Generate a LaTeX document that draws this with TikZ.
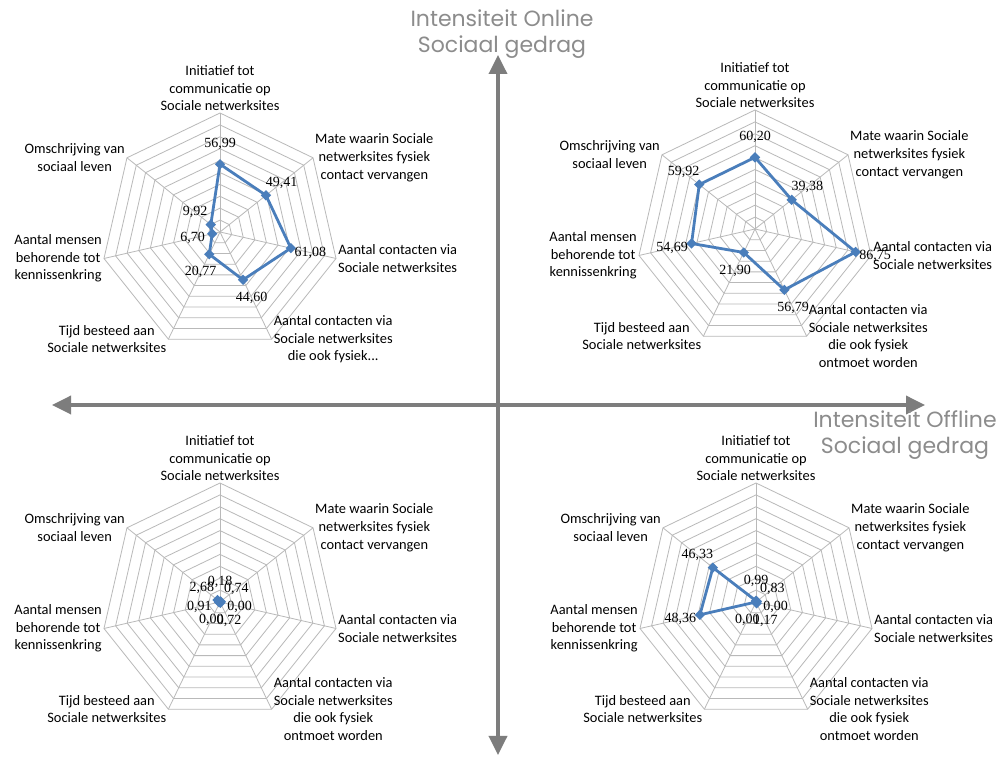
\documentclass[tikz,border=0pt]{standalone}
\usepackage{fontspec}
\setmainfont{Carlito}
\newfontfamily\valfont{Liberation Serif}
\newfontfamily\axisfont{Poppins}
\usetikzlibrary{shapes.geometric,arrows.meta}

\definecolor{gridgray}{RGB}{185,185,185}
\definecolor{serieblue}{RGB}{74,126,187}
\definecolor{axisgray}{RGB}{125,125,125}
\definecolor{titlegray}{RGB}{140,140,140}

\tikzset{
  ring/.style={draw=gridgray, line width=0.8pt},
  spoke/.style={draw=gridgray, line width=0.8pt},
  serie/.style={draw=serieblue, line width=2.8pt, line join=round},
  dot/.style={diamond, fill=serieblue, inner sep=0pt, minimum size=10.5pt},
  cat/.style={font=\fontsize{14.4}{17.6}\selectfont, align=center, inner sep=2pt, text=black},
  val/.style={font=\valfont\fontsize{14}{14}\selectfont, inner sep=0pt},
  intensity/.style={<->, draw=axisgray, line width=3.5pt, >={Triangle[length=19pt,width=18pt]}},
  axislabel/.style={font=\axisfont\fontsize{22}{26.5}\selectfont, text=titlegray, align=center}
}

\newcommand{\radarchart}[4]{%
  \begin{scope}[shift={#2}]
    \coordinate (#1) at (0,0);
    \foreach \k in {0,...,6}
      \coordinate (#1-v\k) at ({90-\k*360/7}:119);
    \foreach \r in {1,...,10}
      \draw[ring] (90:{\r*11.9}) \foreach \k in {1,...,6}{ -- ({90-\k*360/7}:{\r*11.9})} -- cycle;
    \foreach \k in {0,...,6}
      \draw[spoke] (#1) -- (#1-v\k);
    \node[cat, anchor=south] (#1-t0) at (#1-v0) {Initiatief tot\\communicatie op\\Sociale netwerksites};
    \node[cat, anchor=west] (#1-t1) at (#1-v1) {Mate waarin Sociale\\netwerksites fysiek\\contact vervangen};
    \node[cat, anchor=west] (#1-t2) at (#1-v2) {Aantal contacten via\\Sociale netwerksites};
    \node[cat, anchor=west] (#1-t3) at (#1-v3) {Aantal contacten via\\Sociale netwerksites\\#4};
    \node[cat, anchor=east] (#1-t4) at (#1-v4) {Tijd besteed aan\\Sociale netwerksites};
    \node[cat, anchor=east] (#1-t5) at (#1-v5) {Aantal mensen\\behorende tot\\kennissenkring};
    \node[cat, anchor=east] (#1-t6) at (#1-v6) {Omschrijving van\\sociaal leven};
    \foreach \v/\t [count=\k from 0] in {#3}
      \coordinate (#1-p\k) at ({90-\k*360/7}:{\v*1.19});
    \draw[serie] (#1-p0) \foreach \k in {1,...,6}{ -- (#1-p\k)} -- cycle;
    \foreach \k in {0,...,6}
      \node[dot] (#1-m\k) at (#1-p\k) {};
    \foreach \v/\t [count=\k from 0] in {#3}
      \node[val] (#1-l\k) at ({90-\k*360/7}:{\v*1.19+20}) {\t};
  \end{scope}}

\begin{document}
\begin{tikzpicture}[x=1pt, y=1pt]
  \useasboundingbox[fill=white] (0,0) rectangle (1001,760);

  \radarchart{tl}{(220,528)}{56.99/56{,}99, 49.41/49{,}41, 61.08/61{,}08, 44.60/44{,}60, 20.77/20{,}77, 6.70/6{,}70, 9.92/9{,}92}{die ook fysiek...}
  \radarchart{tr}{(755,531)}{60.20/60{,}20, 39.38/39{,}38, 86.75/86{,}75, 56.79/56{,}79, 21.90/21{,}90, 54.69/54{,}69, 59.92/59{,}92}{die ook fysiek\\ontmoet worden}
  \radarchart{bl}{(220,158)}{0.18/0{,}18, 0.74/0{,}74, 0.00/0{,}00, 0.72/0{,}72, 0.00/0{,}00, 0.91/0{,}91, 2.68/2{,}68}{die ook fysiek\\ontmoet worden}
  \radarchart{br}{(756,158)}{0.99/0{,}99, 0.83/0{,}83, 0.00/0{,}00, 1.17/1{,}17, 0.00/0{,}00, 48.36/48{,}36, 46.33/46{,}33}{die ook fysiek\\ontmoet worden}

  \coordinate (online-top) at (498,705);
  \coordinate (online-bot) at (498,5);
  \coordinate (offline-left) at (52,355);
  \coordinate (offline-right) at (925,355);
  \draw[intensity] (online-bot) -- (online-top);
  \draw[intensity] (offline-left) -- (offline-right);

  \node[axislabel] (online) at (502,726) {Intensiteit Online\\Sociaal gedrag};
  \node[axislabel] (offline) at (905,325) {Intensiteit Offline\\Sociaal gedrag};
\end{tikzpicture}
\end{document}
